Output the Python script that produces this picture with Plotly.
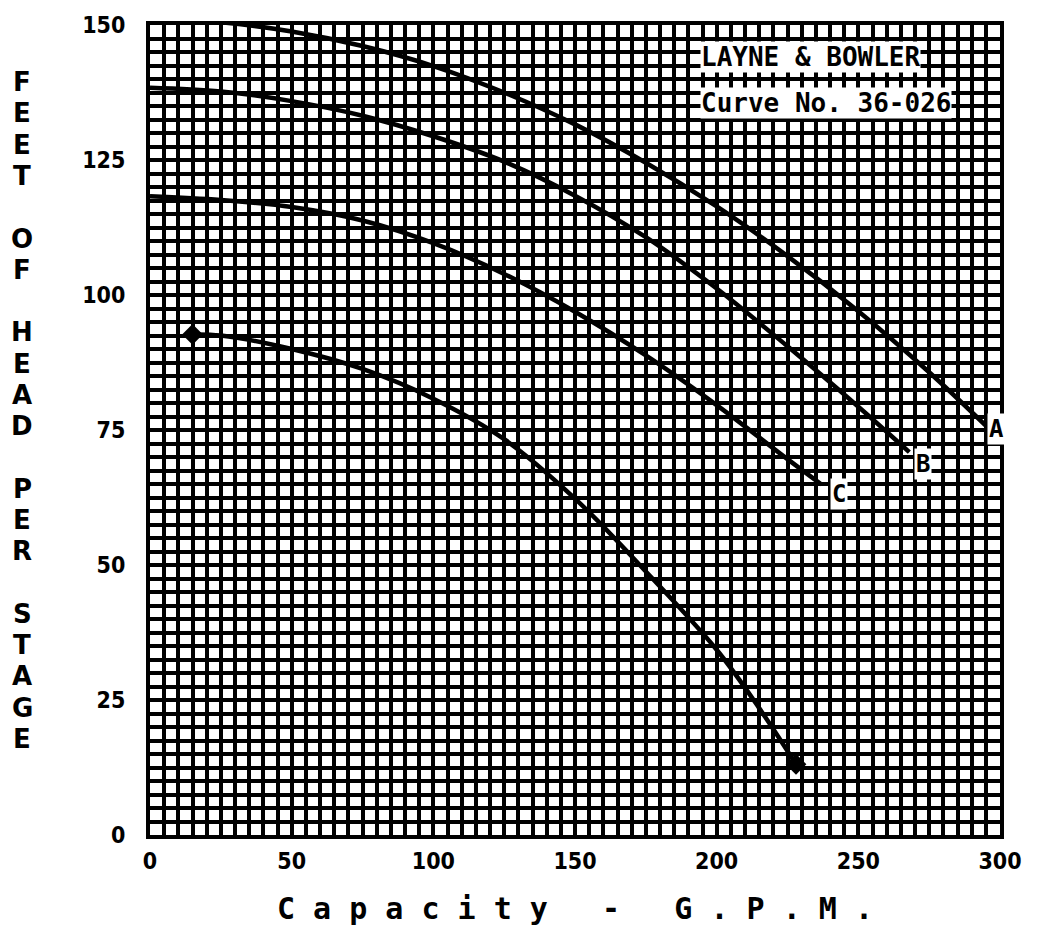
import plotly.graph_objects as go

# Pump performance data: capacity (G.P.M.) vs. feet of head per stage
curve_a_gpm = [0, 25, 50, 75, 100, 125, 150, 175, 200, 225, 250, 275, 296]
curve_a_head = [151.0, 150.5, 148.8, 146.1, 142.4, 137.5, 131.6, 124.5, 116.4, 107.2, 97.0, 85.7, 75.3]

curve_b_gpm = [0, 25, 50, 75, 100, 125, 150, 175, 200, 225, 250, 268]
curve_b_head = [138.4, 137.7, 135.9, 133.2, 129.4, 124.7, 118.4, 110.7, 101.2, 90.5, 79.3, 70.9]

curve_c_gpm = [0, 25, 50, 75, 100, 125, 150, 175, 200, 225, 237]
curve_c_head = [118.3, 117.6, 116.3, 113.8, 109.6, 103.9, 96.9, 88.8, 79.6, 69.6, 64.9]

curve_d_gpm = [15, 25, 50, 75, 100, 125, 150, 175, 200, 215, 228]
curve_d_head = [92.7, 92.5, 90.0, 86.3, 80.8, 73.3, 62.3, 48.8, 34.3, 23.5, 13.1]

curve_labels = ["A", "B", "C"]
x_ticks = [0, 50, 100, 150, 200, 250, 300]
y_ticks = [0, 25, 50, 75, 100, 125, 150]

y_title = "FEET OF HEAD PER STAGE"
x_title = "C a p a c i t y   -   G . P . M ."
maker_text = "LAYNE & BOWLER"
curve_text = "Curve No. 36-026"

W, H = 1050, 938
L, R, T, B = 150, 50, 14, 103
PW, PH = W - L - R, H - T - B


def px_to_paper(px, py):
    return (px - L) / PW, (H - B - py) / PH


fig = go.Figure()

line_style = dict(color="black", width=4.5, shape="spline", smoothing=1.0)
for gx, gy in [(curve_a_gpm, curve_a_head), (curve_b_gpm, curve_b_head),
               (curve_c_gpm, curve_c_head), (curve_d_gpm, curve_d_head)]:
    fig.add_trace(go.Scatter(x=gx, y=gy, mode="lines", line=line_style, hoverinfo="skip"))

fig.add_trace(go.Scatter(
    x=[curve_d_gpm[0], curve_d_gpm[-1]], y=[curve_d_head[0], curve_d_head[-1]],
    mode="markers", marker=dict(symbol="diamond", size=16, color="black"), hoverinfo="skip"))

mono = "DejaVu Sans Mono"
annotations = []

# curve end letters
ends = [(curve_a_gpm[-1], curve_a_head[-1], 8, -1),
        (curve_b_gpm[-1], curve_b_head[-1], 14, -12),
        (curve_c_gpm[-1], curve_c_head[-1], 17, -9)]
for lab, (ex, ey, dx, dy) in zip(curve_labels, ends):
    annotations.append(dict(
        x=ex, y=ey, xref="x", yref="y", text="<b>%s</b>" % lab, showarrow=False,
        xshift=dx, yshift=dy, font=dict(family=mono, size=24, color="black"),
        bgcolor="white", borderpad=1))

# maker / curve number boxes
for txt, cy in [(maker_text, 46), (curve_text, 93)]:
    ax, ay = px_to_paper(700, cy)
    annotations.append(dict(
        x=ax, y=ay, xref="paper", yref="paper", xanchor="left", yanchor="middle",
        text="<b>%s</b>" % txt, showarrow=False,
        font=dict(family=mono, size=26, color="black"), bgcolor="white", borderpad=0))

# vertical stacked axis title
slot = 0
for ch in y_title:
    if ch != " ":
        ax, ay = px_to_paper(22, 72 + slot * 31.7)
        annotations.append(dict(
            x=ax, y=ay, xref="paper", yref="paper", text="<b>%s</b>" % ch, showarrow=False,
            xanchor="center", yanchor="middle",
            font=dict(family="DejaVu Sans", size=26, color="black")))
    slot += 1

ax, ay = px_to_paper(575, 910)
annotations.append(dict(
    x=ax, y=ay, xref="paper", yref="paper",
    text="<b>%s</b>" % x_title, showarrow=False, xanchor="center", yanchor="middle",
    font=dict(family=mono, size=30, color="black")))

tickfont = dict(family="Liberation Sans Narrow, DejaVu Sans Condensed", size=23,
                color="black", weight="bold")

fig.update_layout(
    width=W, height=H, margin=dict(l=L, r=R, t=T, b=B),
    paper_bgcolor="white", plot_bgcolor="white", showlegend=False,
    annotations=annotations,
    xaxis=dict(range=[0, 300], tickvals=x_ticks, ticktext=[str(v) for v in x_ticks],
               tickfont=tickfont, ticks="", ticklabelstandoff=2,
               showgrid=True, gridcolor="black", gridwidth=3.5,
               minor=dict(dtick=5, tick0=0, showgrid=True, gridcolor="black", gridwidth=3.5),
               showline=True, linecolor="black", linewidth=4, mirror=True, zeroline=False),
    yaxis=dict(range=[0, 150], tickvals=y_ticks, ticktext=[str(v) for v in y_ticks],
               tickfont=tickfont, ticks="", ticklabelstandoff=16,
               showgrid=True, gridcolor="black", gridwidth=3.5,
               minor=dict(dtick=2.5, tick0=0, showgrid=True, gridcolor="black", gridwidth=3.5),
               showline=True, linecolor="black", linewidth=4, mirror=True, zeroline=False),
)

fig.write_html("out.html")
